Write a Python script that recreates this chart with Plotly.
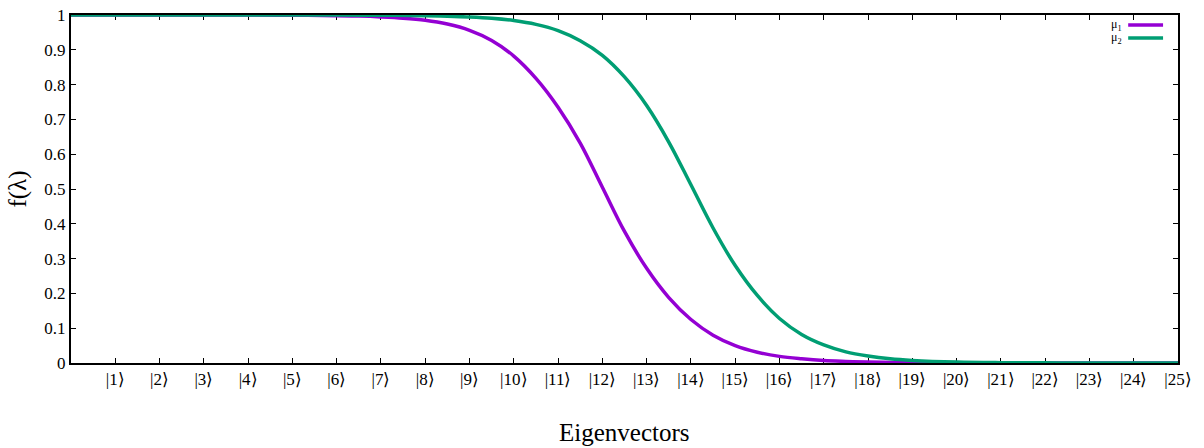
import plotly.graph_objects as go

# Fermi-like occupation curves
x_mu1 = [0, 2, 4, 5, 6, 6.5, 7, 7.5, 8, 8.5, 9, 9.5, 10, 10.5, 11, 11.5, 12,
         12.5, 13, 13.5, 14, 14.5, 15, 15.5, 16, 16.5, 17, 17.5, 18, 19, 20, 22, 25]
f_mu1 = [1.0, 1.0, 0.9998, 0.9993, 0.998, 0.9968, 0.9945, 0.991, 0.985, 0.974,
         0.956, 0.927, 0.882, 0.818, 0.735, 0.632, 0.505, 0.378, 0.272, 0.188,
         0.125, 0.080, 0.050, 0.031, 0.019, 0.012, 0.007, 0.0045, 0.0028, 0.001,
         0.0004, 0.0001, 0.0]

x_mu2 = [0, 2, 4, 6, 7, 8, 8.5, 9, 9.5, 10, 10.5, 11, 11.5, 12, 12.5, 13, 13.5,
         14, 14.5, 15, 15.5, 16, 16.5, 17, 17.5, 18, 18.5, 19, 20, 21, 22, 23, 25]
f_mu2 = [1.0, 1.0, 1.0, 0.9998, 0.9993, 0.998, 0.9965, 0.9942, 0.9905, 0.984,
         0.973, 0.955, 0.926, 0.884, 0.822, 0.740, 0.635, 0.512, 0.388, 0.280,
         0.194, 0.128, 0.082, 0.052, 0.032, 0.020, 0.012, 0.0075, 0.0028, 0.001,
         0.0004, 0.0001, 0.0]

tick_vals = [1, 2, 3, 4, 5, 6, 7, 8, 9, 10, 11, 12, 13, 14, 15, 16, 17, 18,
             19, 20, 21, 22, 23, 24, 25]
tick_labels = ["|1⟩", "|2⟩", "|3⟩", "|4⟩", "|5⟩", "|6⟩", "|7⟩", "|8⟩", "|9⟩",
               "|10⟩", "|11⟩", "|12⟩", "|13⟩", "|14⟩", "|15⟩", "|16⟩", "|17⟩",
               "|18⟩", "|19⟩", "|20⟩", "|21⟩", "|22⟩", "|23⟩", "|24⟩", "|25⟩"]
y_ticks = [0, 0.1, 0.2, 0.3, 0.4, 0.5, 0.6, 0.7, 0.8, 0.9, 1]
y_labels = ["0", "0.1", "0.2", "0.3", "0.4", "0.5", "0.6", "0.7", "0.8", "0.9", "1"]

series_names = ["μ<sub>1</sub>", "μ<sub>2</sub>"]
colors = ["#9400D3", "#009E73"]
x_title = "Eigenvectors"
y_title = "f(λ)"

FONT = "Liberation Serif"

fig = go.Figure()
fig.add_trace(go.Scatter(x=x_mu1, y=f_mu1, mode="lines", name=series_names[0],
                         line=dict(color=colors[0], width=3.5, shape="spline", smoothing=1.0),
                         showlegend=False))
fig.add_trace(go.Scatter(x=x_mu2, y=f_mu2, mode="lines", name=series_names[1],
                         line=dict(color=colors[1], width=3.5, shape="spline", smoothing=1.0),
                         showlegend=False))

# legend drawn gnuplot-style: label then line sample
leg_y = [0.971, 0.934]
for i in range(2):
    fig.add_annotation(xref="paper", yref="paper", x=0.951, y=leg_y[i],
                       text=series_names[i], showarrow=False, xanchor="right",
                       yanchor="middle", font=dict(family=FONT, size=12, color="black"))
    fig.add_shape(type="line", xref="paper", yref="paper", x0=0.955, x1=0.9865,
                  y0=leg_y[i], y1=leg_y[i], line=dict(color=colors[i], width=3.5))

# axis titles
fig.add_annotation(xref="paper", yref="paper", x=0.5, y=-0.2, text=x_title,
                   showarrow=False, xanchor="center", yanchor="middle",
                   font=dict(family=FONT, size=25, color="black"))
fig.add_annotation(xref="paper", yref="paper", x=-0.0483, y=0.5, text=y_title,
                   showarrow=False, textangle=-90, xanchor="center", yanchor="middle",
                   font=dict(family=FONT, size=25, color="black"))

fig.update_layout(
    width=1204, height=448,
    margin=dict(l=71, r=26, t=15, b=84.5),
    paper_bgcolor="white", plot_bgcolor="white",
    font=dict(family=FONT, size=17, color="black"),
    xaxis=dict(range=[0, 25], tickvals=tick_vals, ticktext=tick_labels,
               showgrid=False, zeroline=False, showline=True, linecolor="black",
               linewidth=2, mirror="allticks", ticks="inside", ticklen=5,
               tickwidth=1, tickcolor="black", layer="below traces",
               automargin=False, tickfont=dict(family=FONT, size=17)),
    yaxis=dict(range=[0, 1], tickvals=y_ticks, ticktext=y_labels,
               showgrid=False, zeroline=False, showline=True, linecolor="black",
               linewidth=2, mirror="allticks", ticks="inside", ticklen=5,
               tickwidth=1, tickcolor="black", layer="below traces",
               automargin=False, tickfont=dict(family=FONT, size=17)),
)

fig.write_html("out.html")
